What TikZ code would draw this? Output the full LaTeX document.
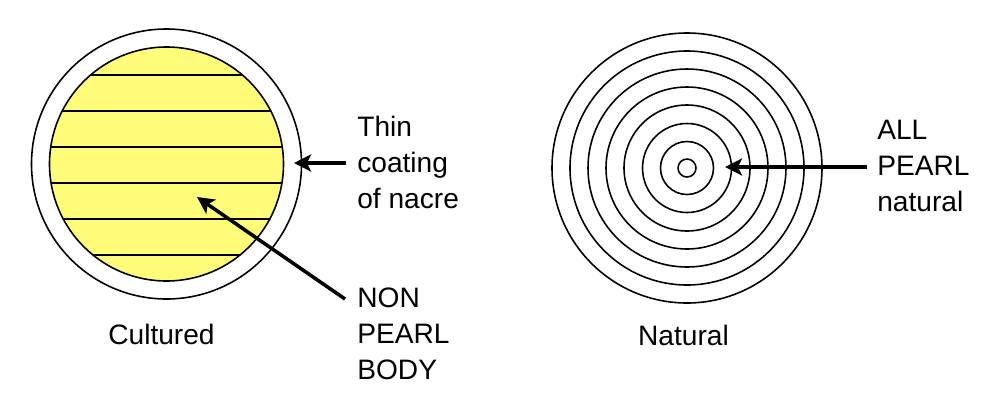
\documentclass[tikz,border=0pt]{standalone}
\usepackage{fontspec}
\setmainfont{Liberation Sans}
\usepackage{tikz}
\usetikzlibrary{calc, arrows.meta}
\usepackage{tkz-euclide}
\definecolor{pearlyellow}{RGB}{255,252,122}

\begin{document}
\begin{tikzpicture}[ring/.style={draw=black, line width=0.9pt},
            pointer/.style={line width=2pt, -{Stealth[length=0.34cm, width=0.34cm, inset=0.08cm]}},
            lbl/.style={font=\fontsize{16}{20.3}\selectfont, align=left, inner sep=0pt}]
            \useasboundingbox (0,0) rectangle (20,8.04);
            % cultured pearl
            \tkzDefPoints{3.33/4.76/O, 6.03/4.76/S, 5.67/4.76/Y}
            \tkzDefPoints{1/6.54/L_1, 6/6.54/R_1, 1/5.82/L_2, 6/5.82/R_2, 1/5.10/L_3, 6/5.10/R_3}
            \tkzDefPoints{1/4.38/L_4, 6/4.38/R_4, 1/3.66/L_5, 6/3.66/R_5, 1/2.94/L_6, 6/2.94/R_6}
            \tkzInterLC(L_1,R_1)(O,Y) \tkzGetPoints{P_1}{Q_1}
            \tkzInterLC(L_2,R_2)(O,Y) \tkzGetPoints{P_2}{Q_2}
            \tkzInterLC(L_3,R_3)(O,Y) \tkzGetPoints{P_3}{Q_3}
            \tkzInterLC(L_4,R_4)(O,Y) \tkzGetPoints{P_4}{Q_4}
            \tkzInterLC(L_5,R_5)(O,Y) \tkzGetPoints{P_5}{Q_5}
            \tkzInterLC(L_6,R_6)(O,Y) \tkzGetPoints{P_6}{Q_6}
            \fill[pearlyellow] (O) circle [radius=2.34];
            \tkzDrawCircle[ring](O,S)
            \tkzDrawCircle[ring](O,Y)
            \tkzDrawSegments[ring](P_1,Q_1 P_2,Q_2 P_3,Q_3 P_4,Q_4 P_5,Q_5 P_6,Q_6)
            % natural pearl
            \tkzDefPoints{13.74/4.68/N, 16.44/4.68/K_1, 16.08/4.68/K_2, 15.72/4.68/K_3, 15.36/4.68/K_4}
            \tkzDefPoints{15.00/4.68/K_5, 14.63/4.68/K_6, 14.27/4.68/K_7, 13.92/4.68/K_8}
            \tkzDrawCircle[ring](N,K_1)
            \tkzDrawCircle[ring](N,K_2)
            \tkzDrawCircle[ring](N,K_3)
            \tkzDrawCircle[ring](N,K_4)
            \tkzDrawCircle[ring](N,K_5)
            \tkzDrawCircle[ring](N,K_6)
            \tkzDrawCircle[ring](N,K_7)
            \tkzDrawCircle[ring](N,K_8)
            % pointers
            \tkzDefPoints{6.92/4.78/T_1, 5.88/4.78/H_1, 6.90/2.06/T_2, 3.94/4.10/H_2, 17.34/4.70/T_3, 14.50/4.70/H_3}
            \draw[pointer] (T_1) -- (H_1);
            \draw[pointer] (T_2) -- (H_2);
            \draw[pointer] (T_3) -- (H_3);
            % texts
            \node[lbl, anchor=base west] (coat) at (7.14,3.88) {Thin\\coating\\of nacre};
            \node[lbl, anchor=base west] (body) at (7.14,0.46) {NON\\PEARL\\BODY};
            \node[lbl, anchor=base west] (all) at (17.54,3.82) {ALL\\PEARL\\natural};
            \node[lbl, anchor=base] (cult) at (3.23,1.15) {Cultured};
            \node[lbl, anchor=base] (nat) at (13.67,1.14) {Natural};
        \end{tikzpicture}
\end{document}
